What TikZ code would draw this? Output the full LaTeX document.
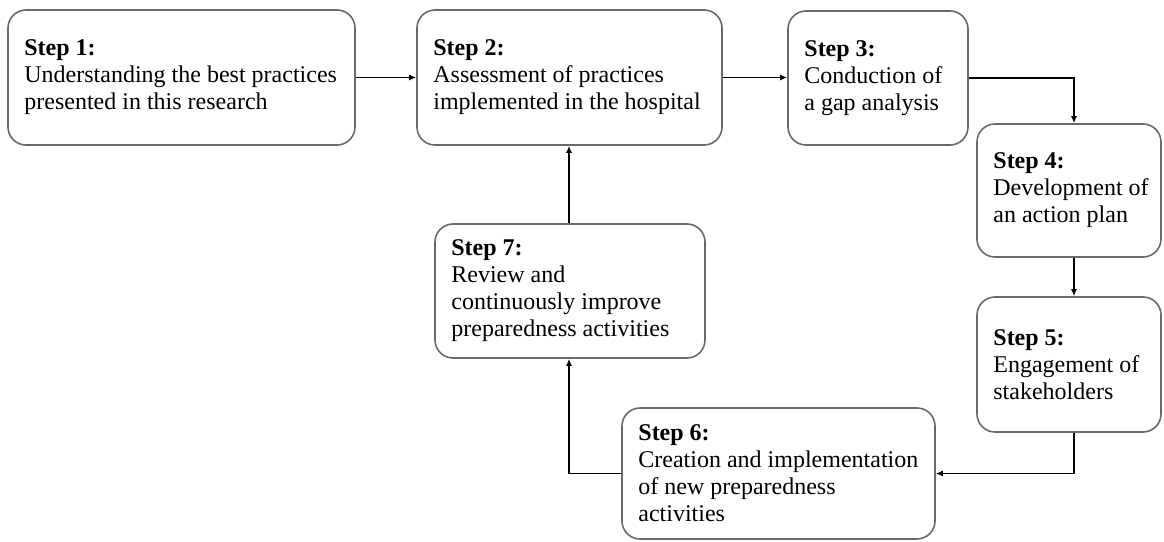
\documentclass[tikz,border=0pt]{standalone}
\usepackage{fontspec}
\setmainfont{Liberation Serif}
\usetikzlibrary{arrows.meta}
\definecolor{boxline}{HTML}{6A6A6A}
\tikzset{
  stepbox/.style={draw=boxline, line width=1.6pt, rounded corners=18pt, inner sep=0pt, fill=white},
  steptext/.style={anchor=west, align=left, inner sep=0pt, font=\fontsize{24}{27}\selectfont},
  arr/.style={line width=1.8pt, -{Latex[length=7pt,width=6pt]}}
}
\newcommand{\stepnode}[6]{% name, x0, y0, x1, y1, text
  \node[stepbox, minimum width=#4pt-#2pt, minimum height=#5pt-#3pt] (#1) at ({(#2+#4)/2},{(#3+#5)/2}) {};
  \node[steptext] (#1t) at ([xshift=17pt]#1.west) {#6};
}
\begin{document}
\begin{tikzpicture}[x=1pt,y=-1pt]
\useasboundingbox (0,0) rectangle (1164,541);

\stepnode{b1}{8}{10}{355}{145}{\textbf{Step 1:}\\Understanding the best practices\\presented in this research}
\stepnode{b2}{417}{10}{722}{145}{\textbf{Step 2:}\\Assessment of practices\\implemented in the hospital}
\stepnode{b3}{788}{11}{968}{145}{\textbf{Step 3:}\\Conduction of\\a gap analysis}
\stepnode{b4}{977}{124}{1161}{257}{\textbf{Step 4:}\\Development of\\an action plan}
\stepnode{b5}{977}{297}{1161}{432}{\textbf{Step 5:}\\Engagement of\\stakeholders}
\stepnode{b6}{622}{408}{935}{539}{\textbf{Step 6:}\\Creation and implementation\\of new preparedness\\activities}
\stepnode{b7}{435}{224}{705}{358}{\textbf{Step 7:}\\Review and\\continuously improve\\preparedness activities}

\coordinate (rx) at (1074,78);
\coordinate (lx) at (569,474);

\draw[arr] (b1) -- (b2);
\draw[arr] (b2.east) -- (b2.east -| b3.west);
\draw[arr] (b3.east) -- (rx) -- (rx |- b4.north);
\draw[arr] (rx |- b4.south) -- (rx |- b5.north);
\draw[arr] (rx |- b5.south) |- (b6.east);
\draw[arr] (b6.west) -| (lx |- b7.south);
\draw[arr] (lx |- b7.north) -- (lx |- b2.south);
\end{tikzpicture}
\end{document}
